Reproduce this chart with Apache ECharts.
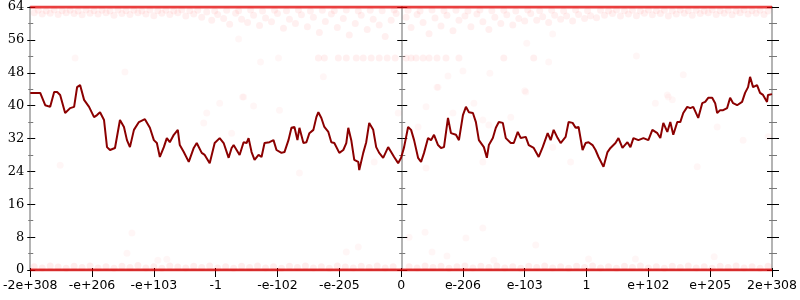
<!DOCTYPE html>
<html><head><meta charset="utf-8">
<script src="https://cdn.jsdelivr.net/npm/echarts@6/dist/echarts.min.js"></script>
<style>html,body{margin:0;padding:0;background:#fff}#c{width:800px;height:300px}</style>
</head><body><div id="c"></div>
<script>
// x positions are along a custom, symmetric float scale: -372 .. 372 (ticks every 62)
const tickLabels = ["-2e+308","-e+206","-e+103","-1","-e-102","-e-205","0","e-206","e-103","1","e+102","e+205","2e+308"];
const yTicks = [0,8,16,24,32,40,48,56,64];

const linePos = [-372,-370,-362,-357,-352,-348,-345,-342,-337,-332,-328,-325,-322,-318,-313,-308,-305,-302,-298,-295,-292,-287,-282,-278,-275,-272,-268,-263,-257,-252,-248,-245,-242,-238,-235,-232,-228,-224,-222,-218,-213,-208,-205,-200,-197,-192,-187,-182,-178,-173,-170,-168,-165,-162,-158,-155,-153,-150,-147,-143,-140,-137,-132,-128,-125,-120,-117,-113,-110,-107,-104,-102,-98,-95,-92,-88,-85,-83,-80,-77,-73,-70,-67,-62,-58,-55,-53,-50,-47,-43,-42,-38,-35,-32,-28,-25,-22,-18,-13,-10,-7,-3,0,3,7,10,13,17,20,23,27,30,33,37,40,43,47,50,55,58,62,65,68,72,75,78,83,86,88,92,95,98,102,105,110,113,117,120,125,128,133,138,142,147,150,153,157,160,165,168,172,175,178,182,185,188,192,195,198,203,207,210,215,218,222,227,230,233,238,243,248,252,257,260,263,267,270,273,277,280,283,287,290,293,298,302,305,308,312,315,317,320,323,327,330,333,337,342,345,348,350,353,357,360,363,367,368,372];
const lineVal = [43.1,43.1,43.1,40.1,39.7,43.3,43.3,42.6,38.2,39.4,39.7,44.5,45.0,41.4,39.7,37.2,37.7,38.4,36.5,29.9,29.2,29.7,36.5,34.8,31.6,29.9,34.1,36.0,36.7,34.6,31.6,30.9,27.5,29.9,32.1,31.1,32.9,34.1,30.4,28.7,26.3,29.7,30.9,28.5,28.0,26.0,30.9,32.1,30.9,27.3,29.7,30.4,29.2,28.0,31.1,30.9,32.1,28.7,26.8,28.0,27.5,30.9,31.1,31.6,29.2,28.5,28.7,31.6,34.6,34.8,31.6,34.6,30.9,31.1,33.3,34.1,37.2,38.4,37.0,34.8,33.6,31.1,30.9,28.5,29.2,30.9,34.6,31.6,26.8,26.3,24.3,28.5,31.1,35.8,34.1,29.9,28.5,27.3,29.9,28.7,27.5,26.0,27.3,29.9,34.8,34.1,31.6,27.3,26.3,28.5,32.1,31.6,32.9,30.4,29.7,29.9,37.0,33.3,32.9,31.6,37.7,39.7,38.4,38.2,36.0,31.6,29.9,27.3,30.4,32.1,34.6,36.0,35.8,32.1,30.9,30.9,33.6,32.1,32.4,30.4,29.7,27.5,29.9,33.3,31.6,34.1,32.1,30.9,32.4,36.0,35.8,34.6,34.8,29.2,30.9,31.1,30.4,29.2,27.5,25.1,28.7,29.7,30.9,32.1,29.7,31.1,29.9,32.1,31.6,32.1,31.6,34.1,33.3,32.1,35.8,33.6,36.0,32.9,36.0,36.0,38.2,39.7,39.4,39.7,37.0,40.6,40.9,41.9,41.9,40.6,38.2,38.9,38.9,39.4,41.9,40.6,40.1,40.9,43.1,44.5,47.0,44.5,45.0,43.1,42.6,40.9,42.6,42.8];

// faint sample points
const topBandPts = [[-368,62.6],[-360,62.3],[-352,62.5],[-344,62.2],[-336,62.6],[-328,62.4],[-320,62.1],[-312,62.5],[-304,62.3],[-296,62.6],[-288,62.0],[-280,62.4],[-272,62.2],[-264,62.6],[-256,62.3],[-248,61.9],[-240,62.5],[-232,62.2],[-224,62.6],[-216,61.8],[-208,62.3],
[-200,61.5],[-195,62.8],[-190,60.8],[-184,62.2],[-178,61.2],[-172,59.8],[-166,62.5],[-160,61.0],[-154,60.2],[-148,62.0],[-142,59.5],[-136,61.3],[-130,60.4],[-124,62.4],[-118,58.8],[-112,61.0],[-106,60.0],[-100,62.1],[-94,59.2],[-88,61.5],[-82,57.8],[-76,60.5],[-70,62.3],[-64,59.0],[-58,61.2],[-52,57.2],[-46,60.0],[-40,62.0],[-34,58.5],[-28,61.0],[-22,59.6],[-16,56.8],[-10,60.8],[-5,62.4],
[5,61.5],[10,59.0],[16,62.2],[22,60.2],[28,57.5],[34,61.3],[40,59.4],[46,62.0],[52,58.2],[58,60.8],[64,61.8],[70,59.2],[76,62.3],[82,60.4],[88,58.5],[94,61.5],[100,60.0],[106,62.1],[112,59.6],[118,61.2],[124,60.6],[130,62.4],[136,60.8],[142,61.6],[148,60.2],[154,62.0],[160,61.0],[166,61.8],[172,60.6],[178,62.2],[184,61.2],[190,61.9],[196,61.4],
[204,62.0],[212,62.4],[220,61.8],[228,62.3],[236,61.9],[244,62.5],[252,62.1],[260,62.4],[268,61.8],[276,62.3],[284,62.5],[292,62.0],[300,62.4],[308,62.6],[316,62.2],[324,62.5],[332,62.1],[340,62.6],[348,62.3],[356,62.5],[364,62.2]];
const topBand2Pts = [[-364,63.2],[-356,63.0],[-348,63.3],[-340,63.1],[-332,63.2],[-324,63.0],[-316,63.3],[-308,63.1],[-300,63.2],[-292,63.0],[-284,63.3],[-276,63.1],[-268,63.2],[-260,63.0],[-252,63.3],[-244,63.1],[-236,63.2],[-228,63.0],[-220,63.3],[-212,63.1],[-204,63.2],
[-187,63.0],[-175,63.2],[-163,63.1],[-151,63.3],[-139,63.0],[-127,63.2],[-115,63.1],[-103,63.3],[-91,63.0],[-79,63.2],[-67,63.1],[-55,63.3],[-43,63.0],[-31,63.2],[-19,63.1],[-7,63.3],
[7,63.2],[19,63.0],[31,63.3],[43,63.1],[55,63.2],[67,63.0],[79,63.3],[91,63.1],[103,63.2],[115,63.0],[127,63.3],[139,63.1],[151,63.2],[163,63.0],[175,63.3],[187,63.1],
[200,63.2],[208,63.0],[216,63.3],[224,63.1],[232,63.2],[240,63.0],[248,63.3],[256,63.1],[264,63.2],[272,63.0],[280,63.3],[288,63.1],[296,63.2],[304,63.0],[312,63.3],[320,63.1],[328,63.2],[336,63.0],[344,63.3],[352,63.1],[360,63.2],[368,63.0]];
const rowPts = [[-83,51.6],[-77,51.6],[-63,51.6],[-55,51.6],[-45,51.6],[-38,51.6],[-30,51.6],[-22,51.6],[-14,51.6],[-6,51.6],[5,51.6],[10,51.6],[15,51.6],[22,51.6],[28,51.6],[36,51.6],[45,51.6],[58,51.6],[103,51.6],[133,51.6]];
const sparsePts = [[-327,51.6],[-277,48.2],[-163,56.2],[-141,50.6],[-123,51.6],[-78,47.0],[-159,42.1],[62,48.4],[47,47.2],[36,44.5],[89,47.9],[124,43.6],[152,57.4],[126,55.2],[148,50.6],[236,52.1],[283,47.5],[268,42.1],
[-270,9.0],[-275,4.1],[-244,2.4],[-235,2.6],[-55,4.4],[-43,5.6],[8,8.0],[24,9.2],[31,4.4],[46,3.4],[65,7.8],[82,10.2],[93,2.4],[135,6.1],[188,2.7],[235,2.7],[314,3.2],
[-182,40.6],[-195,38.2],[-198,35.8],[-342,25.5],[-158,42.1],[-148,39.9],[-122,38.9],[-170,33.3],[-102,23.6],[-27,26.3],[-3,38.2],[37,44.5],[25,39.7],[52,38.2],[73,40.6],[82,36.5],[88,35.3],[110,37.2],[125,43.3],[17,34.8],[25,24.8],[82,26.3],[170,26.3],[152,29.9],[255,40.6],[267,42.6],[272,41.4],[317,34.8],[343,31.6],[368,32.4],[297,25.1]];
const bottomBandPts = [[-368,0.8],[-360,0.5],[-352,1.0],[-344,0.7],[-336,0.4],[-328,0.9],[-320,0.6],[-312,1.0],[-304,0.5],[-296,0.8],[-288,0.4],[-280,0.9],[-272,0.6],[-264,1.1],[-256,0.5],[-248,0.8],[-240,0.4],[-232,1.0],[-224,0.7],[-216,0.5],[-208,0.9],[-200,0.6],[-192,1.0],[-184,0.5],[-176,0.8],[-168,0.4],[-160,0.9],[-152,0.6],[-144,1.0],[-136,0.5],[-128,0.8],[-120,0.4],[-112,0.9],[-104,0.6],[-96,1.0],[-88,0.5],[-80,0.8],[-72,0.4],[-64,1.0],[-56,0.7],[-48,0.5],[-40,0.9],[-32,0.6],[-24,1.0],[-16,0.5],[-8,0.8],
[8,0.8],[16,0.5],[24,1.0],[32,0.6],[40,0.9],[48,0.4],[56,0.8],[64,1.0],[72,0.5],[80,0.9],[88,0.6],[96,1.0],[104,0.5],[112,0.8],[120,0.4],[128,0.9],[136,0.6],[144,1.0],[152,0.5],[160,0.8],[168,0.4],[176,0.9],[184,0.6],[192,1.0],[200,0.5],[208,0.8],[216,0.4],[224,0.9],[232,0.6],[240,1.0],[248,0.5],[256,0.8],[264,0.4],[272,0.9],[280,0.6],[288,1.0],[296,0.5],[304,0.8],[312,0.4],[320,0.9],[328,0.6],[336,1.0],[344,0.5],[352,0.8],[360,0.4],[368,0.9]];
const edgeTop = [[-372,64],[372,64]];
const edgeBottom = [[-372,0],[372,0]];

const chart = echarts.init(document.getElementById('c'), null, {renderer:'canvas'});
const axisGrey = '#b4b4b4';
function yAx(pos, offset, inside, len, labels) {
  return {
    type:'value', min:0, max:64, interval:8, position:pos, offset:offset,
    axisLine:{show:true, onZero:false, lineStyle:{color:axisGrey, width:2}},
    axisTick:{show:true, inside:inside, length:len, lineStyle:{color:'#000', width:1}},
    minorTick:{show:true, splitNumber:2, length:Math.max(2,len-2), lineStyle:{color:'#777', width:1}},
    splitLine:{show:false}, minorSplitLine:{show:false},
    axisLabel:{show:labels, margin:6, color:'#000', fontFamily:'DejaVu Serif', fontSize:13}
  };
}
const lab = v => tickLabels[Math.round((v + 372) / 62)];
const faint = 'rgba(255,0,0,0.075)';
chart.setOption({
  animation:false,
  grid:{left:28, right:28, top:7, bottom:30, containLabel:false},
  xAxis:[
    {type:'value', min:-372, max:372, interval:62, position:'bottom',
     axisLine:{show:true, onZero:false, lineStyle:{color:axisGrey, width:2}},
     axisTick:{show:true, length:7, lineStyle:{color:'#000'}},
     splitLine:{show:false},
     axisLabel:{margin:9, color:'#000', fontFamily:'DejaVu Sans', fontSize:12.5, formatter:lab, showMinLabel:true, showMaxLabel:true}},
    {type:'value', min:-372, max:372, interval:62, position:'bottom',
     axisLine:{show:false, onZero:false}, axisTick:{show:true, inside:true, length:2, lineStyle:{color:'#000'}},
     splitLine:{show:false}, axisLabel:{show:false}}
  ],
  yAxis:[
    yAx('left', 0, false, 3, true),
    yAx('left', 0, true, 5, false),
    yAx('left', -372, false, 5, false),
    yAx('left', -372, true, 5, false),
    yAx('right', 0, false, 7, false),
    yAx('right', 0, true, 5, false)
  ],
  series:[
    {type:'scatter', data:topBandPts, symbolSize:7, itemStyle:{color:faint}, silent:true},
    {type:'scatter', data:topBand2Pts, symbolSize:7, itemStyle:{color:faint}, silent:true},
    {type:'scatter', data:rowPts, symbolSize:7, itemStyle:{color:faint}, silent:true},
    {type:'scatter', data:sparsePts, symbolSize:7, itemStyle:{color:'rgba(255,0,0,0.045)'}, silent:true},
    {type:'scatter', data:bottomBandPts, symbolSize:7, itemStyle:{color:'rgba(255,0,0,0.09)'}, silent:true},
    {type:'line', data:edgeTop, symbol:'none', lineStyle:{color:'rgba(225,0,0,0.75)', width:3}, silent:true},
    {type:'line', data:edgeBottom, symbol:'none', lineStyle:{color:'rgba(225,0,0,0.75)', width:3}, silent:true},
    {type:'line', data:linePos.map((p,i)=>[p, lineVal[i]]), symbol:'none', lineStyle:{color:'#8b0000', width:2}, z:5}
  ]
});
</script></body></html>
